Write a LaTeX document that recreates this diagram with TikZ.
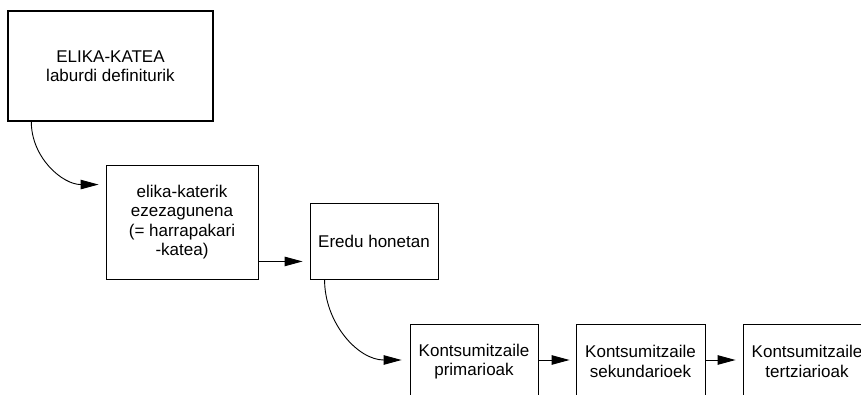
\documentclass[tikz,border=0pt]{standalone}
\usepackage{fontspec}
\setmainfont{Liberation Sans}
\usetikzlibrary{arrows.meta}
\begin{document}
\begin{tikzpicture}[x=1pt,y=-1pt,
  box/.style={draw, line width=0.9pt, align=center, inner sep=0pt,
    font=\fontsize{17}{19.3}\selectfont},
  conn/.style={line width=0.9pt, -{Triangle[length=18pt,width=9.5pt]}}]
\clip (0,0) rectangle (861,395);
\node[box, line width=1.4pt, minimum width=205pt, minimum height=110pt] (b1) at (110.5,66)
  {ELIKA-KATEA\\laburdi definiturik};
\node[box, minimum width=152pt, minimum height=114pt] (b2) at (182,222)
  {elika-katerik\\ezezagunena\\(= harrapakari\\-katea)};
\node[box, minimum width=128pt, minimum height=76pt] (b3) at (374,241)
  {Eredu honetan};
\node[box, minimum width=128pt, minimum height=75pt] (b4) at (474,361.5)
  {Kontsumitzaile\\primarioak};
\node[box, minimum width=129pt, minimum height=75pt] (b5) at (640.5,361.5)
  {Kontsumitzaile\\sekundarioek};
\node[box, minimum width=128pt, minimum height=75pt] (b6) at (807,361.5)
  {Kontsumitzaile\\tertziarioak};
\draw[conn] ([xshift=24pt]b1.south west) to[out=-90,in=180] ([xshift=-7pt,yshift=-20pt]b2.north west);
\draw[conn] ([yshift=18pt]b2.south east) -- ([xshift=-7pt,yshift=18pt]b3.south west);
\draw[conn] ([xshift=15pt]b3.south west) to[out=-90,in=180] ([xshift=-8pt,yshift=1.5pt]b4.west);
\draw[conn] ([yshift=1.5pt]b4.east) -- ([xshift=-6pt,yshift=1.5pt]b5.west);
\draw[conn] ([yshift=1.5pt]b5.east) -- ([xshift=-7pt,yshift=1.5pt]b6.west);
\end{tikzpicture}
\end{document}
